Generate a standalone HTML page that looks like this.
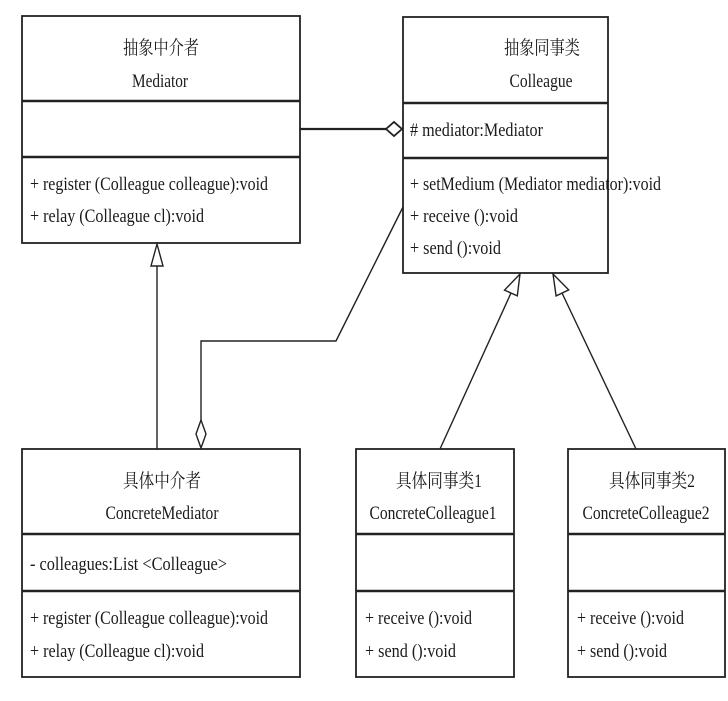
<!DOCTYPE html>
<html><head><meta charset="utf-8"><style>
html,body{margin:0;padding:0;background:#fff;}
svg{display:block;}
text{font-family:"Liberation Serif","Noto Serif CJK SC",serif;font-size:19px;fill:#1a1a1a;}
</style></head><body>
<svg width="728" height="701" viewBox="0 0 728 701" xmlns="http://www.w3.org/2000/svg">
<g fill="none" stroke="#222" stroke-width="1.8">
<rect x="22" y="16" width="278" height="227"/>
<line x1="22" y1="101" x2="300" y2="101" stroke-width="2.4"/>
<line x1="22" y1="157" x2="300" y2="157" stroke-width="2.4"/>
<rect x="403" y="17" width="205" height="256"/>
<line x1="403" y1="103" x2="608" y2="103" stroke-width="2.4"/>
<line x1="403" y1="158" x2="608" y2="158" stroke-width="2.4"/>
<rect x="22" y="449" width="278" height="228"/>
<line x1="22" y1="534" x2="300" y2="534" stroke-width="2.4"/>
<line x1="22" y1="591" x2="300" y2="591" stroke-width="2.4"/>
<rect x="356" y="449" width="158" height="228"/>
<line x1="356" y1="534" x2="514" y2="534" stroke-width="2.4"/>
<line x1="356" y1="591" x2="514" y2="591" stroke-width="2.4"/>
<rect x="568" y="449" width="157" height="228"/>
<line x1="568" y1="534" x2="725" y2="534" stroke-width="2.4"/>
<line x1="568" y1="591" x2="725" y2="591" stroke-width="2.4"/>
</g>
<g fill="none" stroke="#222" stroke-width="1.4">
<line x1="300" y1="129" x2="386" y2="129" stroke-width="2.2"/>
<polygon points="386,129 394,122 402,129 394,136" fill="#fff" stroke-width="1.8"/>
<line x1="157" y1="266" x2="157" y2="449"/>
<polygon points="157,244 151,266 163,266" fill="#fff"/>
<polyline points="403,207 336,341 201,341 201,420"/>
<polygon points="201,420 206,434 201,448 196,434" fill="#fff"/>
<line x1="511" y1="293" x2="440" y2="449"/>
<polygon points="520,274 517.3,295.9 504.5,290.1" fill="#fff"/>
<line x1="562" y1="293" x2="636" y2="449"/>
<polygon points="553,274 568.7,289.9 556.1,295.9" fill="#fff"/>
</g>
<g>
<text x="161" y="54" text-anchor="middle" textLength="76" lengthAdjust="spacingAndGlyphs">抽象中介者</text>
<text x="160" y="87" text-anchor="middle" textLength="56" lengthAdjust="spacingAndGlyphs">Mediator</text>
<text x="30" y="190" textLength="238" lengthAdjust="spacingAndGlyphs">+ register (Colleague colleague):void</text>
<text x="30" y="222" textLength="174" lengthAdjust="spacingAndGlyphs">+ relay (Colleague cl):void</text>

<text x="542" y="54" text-anchor="middle" textLength="76" lengthAdjust="spacingAndGlyphs">抽象同事类</text>
<text x="541" y="87" text-anchor="middle" textLength="63" lengthAdjust="spacingAndGlyphs">Colleague</text>
<text x="410" y="136" textLength="133" lengthAdjust="spacingAndGlyphs"># mediator:Mediator</text>
<text x="410" y="190" textLength="251" lengthAdjust="spacingAndGlyphs">+ setMedium (Mediator mediator):void</text>
<text x="410" y="222" textLength="108" lengthAdjust="spacingAndGlyphs">+ receive ():void</text>
<text x="410" y="254" textLength="91" lengthAdjust="spacingAndGlyphs">+ send ():void</text>

<text x="162" y="487" text-anchor="middle" textLength="78" lengthAdjust="spacingAndGlyphs">具体中介者</text>
<text x="162" y="519" text-anchor="middle" textLength="113" lengthAdjust="spacingAndGlyphs">ConcreteMediator</text>
<text x="30" y="570" textLength="197" lengthAdjust="spacingAndGlyphs">- colleagues:List &lt;Colleague&gt;</text>
<text x="30" y="624" textLength="238" lengthAdjust="spacingAndGlyphs">+ register (Colleague colleague):void</text>
<text x="30" y="657" textLength="174" lengthAdjust="spacingAndGlyphs">+ relay (Colleague cl):void</text>

<text x="439" y="487" text-anchor="middle" textLength="86" lengthAdjust="spacingAndGlyphs">具体同事类1</text>
<text x="433" y="519" text-anchor="middle" textLength="127" lengthAdjust="spacingAndGlyphs">ConcreteColleague1</text>
<text x="365" y="624" textLength="107" lengthAdjust="spacingAndGlyphs">+ receive ():void</text>
<text x="365" y="657" textLength="91" lengthAdjust="spacingAndGlyphs">+ send ():void</text>

<text x="652" y="487" text-anchor="middle" textLength="86" lengthAdjust="spacingAndGlyphs">具体同事类2</text>
<text x="646" y="519" text-anchor="middle" textLength="127" lengthAdjust="spacingAndGlyphs">ConcreteColleague2</text>
<text x="577" y="624" textLength="107" lengthAdjust="spacingAndGlyphs">+ receive ():void</text>
<text x="577" y="657" textLength="90" lengthAdjust="spacingAndGlyphs">+ send ():void</text>
</g>
</svg>
</body></html>
